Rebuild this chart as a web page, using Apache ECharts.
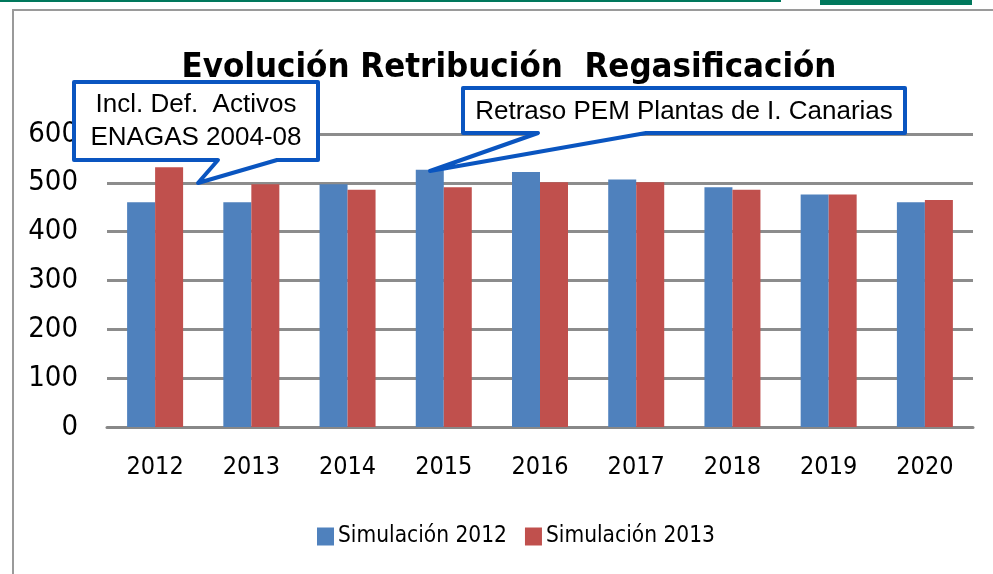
<!DOCTYPE html>
<html>
<head>
<meta charset="utf-8">
<script src="https://cdn.jsdelivr.net/npm/echarts@6/dist/echarts.min.js"></script>
<style>
  html, body { margin: 0; padding: 0; background: #fff; }
  #chart { width: 993px; height: 574px; }
</style>
</head>
<body>
<div id="chart"></div>
<script>
/* Evolución Retribución Regasificación — barras agrupadas */

const years = ['2012', '2013', '2014', '2015', '2016', '2017', '2018', '2019', '2020'];
const sim2012 = [460, 460, 497, 527, 522, 507, 491, 476, 460];
const sim2013 = [532, 497, 486, 491, 501, 501, 486, 476, 465];
const seriesNames = ['Simulación 2012', 'Simulación 2013'];
const yTicks = { min: 0, max: 600, interval: 100 };

const NARROW = "'Liberation Sans Narrow', 'DejaVu Sans Condensed', 'Open Sans', sans-serif";
const ARIAL = "'Liberation Sans', Arial, sans-serif";
const CALLOUT_BLUE = '#0a55c0';

const chart = echarts.init(document.getElementById('chart'), null, { renderer: 'canvas' });

chart.setOption({
  animation: false,
  backgroundColor: '#fff',
  title: {
    text: 'Evolución Retribución  Regasificación',
    left: 504,
    top: 46,
    textAlign: 'center',
    textStyle: { fontFamily: NARROW, fontWeight: 'bold', fontSize: 34.5, color: '#000' },
  },
  legend: {
    left: 312,
    top: 520,
    itemWidth: 17,
    itemHeight: 18,
    itemGap: 18,
    icon: 'rect',
    textStyle: { fontFamily: NARROW, fontSize: 22.5, color: '#000', padding: [0, 0, 0, -1] },
    data: seriesNames,
  },
  grid: { left: 107, right: 20, top: 134, bottom: 147 },
  xAxis: {
    type: 'category',
    data: years,
    axisLine: { lineStyle: { color: '#888', width: 3 } },
    axisTick: { show: false },
    axisLabel: { fontFamily: NARROW, fontSize: 25, color: '#000', margin: 28 },
  },
  yAxis: {
    type: 'value',
    min: yTicks.min,
    max: yTicks.max,
    interval: yTicks.interval,
    axisLine: { show: false },
    axisTick: { show: false },
    splitLine: { lineStyle: { color: '#8c8c8c', width: 3 } },
    axisLabel: { fontFamily: NARROW, fontSize: 29, color: '#000', margin: 29 },
  },
  series: [
    {
      name: seriesNames[0],
      type: 'bar',
      data: sim2012,
      barWidth: 28,
      barGap: '0%',
      itemStyle: { color: '#4f81bd' },
    },
    {
      name: seriesNames[1],
      type: 'bar',
      data: sim2013,
      barWidth: 28,
      itemStyle: { color: '#c0504d' },
    },
  ],
  graphic: [
    // marco y franjas verdes de la diapositiva
    { type: 'rect', shape: { x: 0, y: 0, width: 781, height: 2 }, style: { fill: '#00785c' } },
    { type: 'rect', shape: { x: 820, y: 0, width: 152, height: 5 }, style: { fill: '#00785c' } },
    { type: 'polyline', shape: { points: [[13, 574], [13, 10], [993, 10]] }, style: { stroke: '#9a9a9a', lineWidth: 2, fill: null } },
    // llamada 1
    {
      type: 'polygon',
      z: 100,
      shape: { points: [[74, 82], [318, 82], [318, 160], [277, 160], [198, 183], [218, 160], [74, 160]] },
      style: { fill: '#fff', stroke: CALLOUT_BLUE, lineWidth: 4, lineJoin: 'round' },
    },
    {
      type: 'text',
      z: 101,
      x: 196,
      y: 121,
      style: {
        text: 'Incl. Def.  Activos\nENAGAS 2004-08',
        font: '26px ' + ARIAL,
        lineHeight: 33,
        fill: '#000',
        align: 'center',
        verticalAlign: 'middle',
      },
    },
    // llamada 2
    {
      type: 'polygon',
      z: 100,
      shape: { points: [[463, 88], [905, 88], [905, 133], [646, 133], [430, 171], [538, 133], [463, 133]] },
      style: { fill: '#fff', stroke: CALLOUT_BLUE, lineWidth: 4, lineJoin: 'round' },
    },
    {
      type: 'text',
      z: 101,
      x: 684,
      y: 112,
      style: {
        text: 'Retraso PEM Plantas de I. Canarias',
        font: '26px ' + ARIAL,
        fill: '#000',
        align: 'center',
        verticalAlign: 'middle',
      },
    },
  ],
});
</script>
</body>
</html>
